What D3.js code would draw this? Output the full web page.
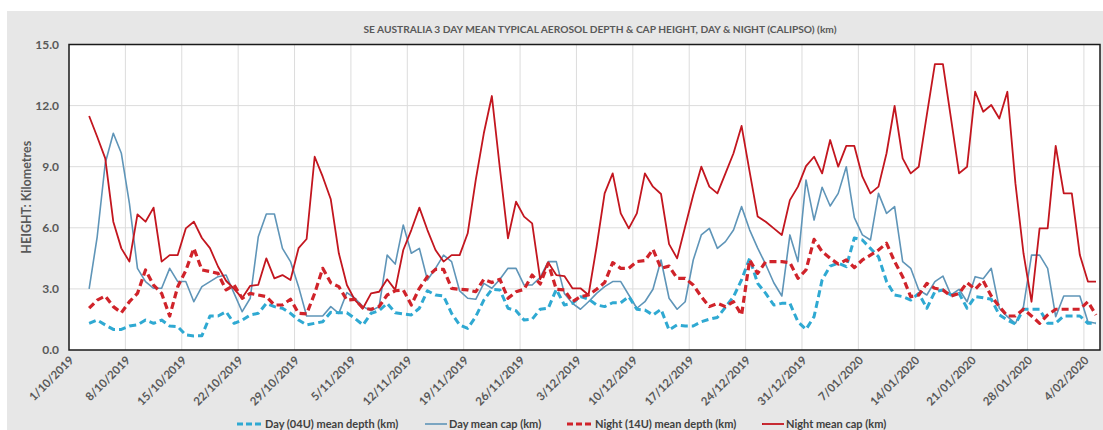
<!DOCTYPE html>
<html>
<head>
<meta charset="utf-8">
<script src="https://cdn.jsdelivr.net/npm/d3@7"></script>
<style>
  html, body { margin: 0; padding: 0; background: #ffffff; }
  svg { display: block; }
  text { font-family: Lato, "Open Sans", "Liberation Sans", sans-serif; }
</style>
</head>
<body>
<svg id="chart" width="1103" height="430"></svg>
<script>
// Daily series, 3/10/2019 .. 5/02/2020 (km)
const firstDay = "3/10/2019";
const lastDay = "5/02/2020";

const dayDepth = [
  1.31, 1.47, 1.23, 1.01, 1.01, 1.18, 1.23, 1.47, 1.31, 1.47, 1.18, 1.15, 0.74, 0.69, 0.70,
  1.67, 1.67, 1.88, 1.31, 1.47, 1.72, 1.80, 2.29, 2.13, 2.05, 1.80, 1.47, 1.23, 1.31, 1.39,
  1.85, 1.83, 1.83, 1.55, 1.23, 1.80, 1.93, 2.29, 1.83, 1.77, 1.72, 2.05, 2.91, 2.70, 2.65,
  1.80, 1.23, 1.06, 1.64, 2.45, 2.98, 2.95, 2.05, 1.93, 1.47, 1.51, 2.00, 2.05, 2.98, 2.21,
  2.29, 2.62, 2.50, 2.21, 2.13, 2.32, 2.32, 2.62, 2.00, 1.96, 1.72, 2.00, 0.98, 1.23, 1.18,
  1.18, 1.39, 1.51, 1.60, 2.10, 2.62, 3.44, 4.50, 3.27, 2.78, 2.21, 2.29, 2.29, 1.39, 1.01,
  1.64, 3.44, 4.12, 4.26, 4.09, 5.50, 5.40, 4.99, 4.58, 3.36, 2.70, 2.62, 2.45, 2.78, 2.05,
  2.86, 2.95, 2.70, 2.78, 2.05, 2.62, 2.57, 2.49, 1.72, 1.47, 1.28, 2.00, 2.00, 2.00, 1.31,
  1.31, 1.67, 1.67, 1.67, 1.31, 1.31
];

const dayCap = [
  3.00, 5.56, 9.17, 10.64, 9.66, 7.20, 4.01, 3.36, 3.03, 3.03, 4.01, 3.36, 3.36, 2.37, 3.11,
  3.36, 3.60, 3.68, 2.78, 1.88, 2.54, 5.56, 6.68, 6.68, 4.99, 4.34, 3.11, 1.67, 1.67, 1.67,
  2.13, 1.80, 2.82, 2.54, 2.13, 1.93, 2.13, 4.66, 4.22, 6.14, 4.75, 4.99, 3.44, 4.01, 4.66,
  4.34, 2.90, 2.54, 2.49, 3.27, 3.03, 3.47, 4.01, 4.01, 3.19, 3.19, 3.57, 4.34, 4.34, 2.78,
  2.29, 2.00, 2.37, 2.78, 3.11, 3.36, 3.36, 2.70, 2.05, 2.37, 2.98, 4.42, 2.54, 2.00, 2.37,
  4.42, 5.65, 5.97, 4.99, 5.32, 5.89, 7.04, 5.90, 5.00, 4.20, 3.30, 2.65, 5.65, 4.34, 8.35,
  6.38, 7.99, 7.07, 7.69, 9.00, 6.50, 5.65, 5.40, 7.69, 6.71, 7.04, 4.34, 4.01, 2.95, 2.70,
  3.36, 3.63, 2.70, 2.98, 2.37, 3.60, 3.50, 4.01, 2.05, 1.64, 1.31, 2.13, 4.66, 4.66, 4.01,
  1.64, 2.65, 2.65, 2.65, 1.39, 1.31
];

const nightDepth = [
  2.05, 2.45, 2.65, 2.13, 1.83, 2.37, 2.78, 3.93, 3.19, 2.78, 1.67, 3.11, 3.90, 4.99, 3.93,
  3.85, 3.76, 2.95, 3.19, 2.54, 2.78, 2.70, 2.62, 2.21, 2.21, 2.49, 1.80, 1.77, 2.78, 4.01,
  3.30, 3.11, 2.45, 2.49, 2.05, 2.00, 2.13, 2.70, 2.91, 2.95, 2.21, 3.03, 3.60, 3.96, 3.96,
  3.03, 2.98, 2.95, 2.86, 3.47, 3.31, 3.47, 2.54, 2.86, 2.98, 3.68, 3.24, 4.26, 2.98, 2.95,
  2.37, 2.62, 2.70, 2.98, 3.31, 4.29, 4.01, 4.01, 4.34, 4.39, 4.94, 4.01, 4.12, 3.52, 3.52,
  3.19, 2.62, 2.13, 2.29, 2.13, 2.37, 1.72, 4.42, 3.76, 4.34, 4.34, 4.34, 4.29, 3.52, 3.93,
  5.43, 4.83, 4.50, 4.22, 4.42, 4.05, 4.42, 4.66, 4.91, 5.24, 4.34, 3.60, 2.62, 2.70, 3.27,
  3.03, 2.95, 2.65, 2.78, 3.31, 2.98, 3.40, 2.65, 2.13, 1.67, 1.67, 2.00, 1.67, 1.31, 1.72,
  2.00, 2.00, 2.00, 2.00, 2.37, 1.72
];

const nightCap = [
  11.49, 10.47, 9.41, 6.30, 4.99, 4.34, 6.66, 6.30, 6.99, 4.34, 4.66, 4.66, 5.97, 6.30, 5.50,
  5.00, 4.10, 3.40, 3.00, 2.55, 3.15, 3.20, 4.50, 3.52, 3.68, 3.44, 5.00, 5.45, 9.49, 8.51,
  7.40, 4.75, 3.19, 2.45, 2.05, 2.78, 2.86, 3.47, 2.95, 4.91, 5.89, 6.99, 5.89, 4.91, 4.34,
  4.66, 4.66, 5.73, 8.35, 10.64, 12.47, 8.90, 5.48, 7.28, 6.55, 6.22, 3.47, 4.29, 3.68, 3.63,
  3.03, 3.03, 2.70, 5.07, 7.69, 8.67, 6.71, 5.97, 6.71, 8.67, 8.02, 7.66, 5.20, 4.50, 6.06,
  7.61, 9.00, 8.02, 7.69, 8.67, 9.66, 11.00, 8.76, 6.55, 6.30, 5.97, 5.65, 7.36, 8.02, 9.03,
  9.49, 8.67, 10.31, 9.00, 10.02, 10.02, 8.51, 7.69, 8.02, 9.66, 11.98, 9.41, 8.67, 9.00, 11.54,
  14.04, 14.04, 11.37, 8.67, 9.00, 12.68, 11.70, 12.03, 11.37, 12.68, 8.18, 4.75, 2.37, 5.97, 5.97,
  10.02, 7.69, 7.69, 4.66, 3.36, 3.36
];

const xTickLabels = [
  "1/10/2019", "8/10/2019", "15/10/2019", "22/10/2019", "29/10/2019", "5/11/2019",
  "12/11/2019", "19/11/2019", "26/11/2019", "3/12/2019", "10/12/2019", "17/12/2019",
  "24/12/2019", "31/12/2019", "7/01/2020", "14/01/2020", "21/01/2020", "28/01/2020", "4/02/2020"
];
const yTickValues = [0, 3, 6, 9, 12, 15];

const seriesNames = [
  "Day (04U) mean depth (km)", "Day mean cap (km)",
  "Night (14U) mean depth (km)", "Night mean cap (km)"
];

const titleText = "SE AUSTRALIA 3 DAY MEAN TYPICAL AEROSOL DEPTH & CAP HEIGHT, DAY & NIGHT (CALIPSO) (km)";
const yTitle = "HEIGHT: Kilometres";

// ---- drawing ----
const parse = d3.timeParse("%d/%m/%Y");
const fmtY = d3.format(".1f");

const days = d3.timeDay.range(parse(firstDay), d3.timeDay.offset(parse(lastDay), 1));
const axisStart = parse(xTickLabels[0]);
const axisEnd = d3.timeDay.offset(parse(lastDay), 1);

const plot = { left: 69, right: 1100, top: 44.5, bottom: 350 };

const x = d3.scaleTime().domain([axisStart, axisEnd]).range([plot.left, plot.right]);
const y = d3.scaleLinear().domain([0, 15]).range([plot.bottom, plot.top]);
// each day's value sits in the middle of its day slot
const xMid = d => x(d3.timeHour.offset(d, 12));

const svg = d3.select("#chart");

// chart panel
svg.append("rect").attr("x", 7).attr("y", 11).attr("width", 1096).attr("height", 419)
  .attr("fill", "#e7e7e7");

// plot area
svg.append("rect").attr("x", plot.left).attr("y", plot.top)
  .attr("width", plot.right - plot.left).attr("height", plot.bottom - plot.top)
  .attr("fill", "#ffffff");

// gridlines
const tickDates = xTickLabels.map(parse);
svg.append("g").selectAll("line.vg").data(tickDates.slice(1)).join("line")
  .attr("x1", d => x(d)).attr("x2", d => x(d))
  .attr("y1", plot.top).attr("y2", plot.bottom)
  .attr("stroke", "#dcdcdc").attr("stroke-width", 1);
svg.append("g").selectAll("line.hg").data(yTickValues.slice(1, -1)).join("line")
  .attr("x1", plot.left).attr("x2", plot.right)
  .attr("y1", d => y(d)).attr("y2", d => y(d))
  .attr("stroke", "#dcdcdc").attr("stroke-width", 1);

// y axis labels
const yAxis = d3.axisLeft(y).tickValues(yTickValues).tickFormat(fmtY).tickSize(0).tickPadding(10);
const gy = svg.append("g").attr("transform", `translate(${plot.left},0)`).call(yAxis);
gy.select(".domain").remove();
gy.selectAll("text").attr("fill", "#595959").attr("font-size", 12).attr("font-weight", 700)
  .style("font-family", "Lato, sans-serif");

// x axis labels (rotated)
const xAxis = d3.axisBottom(x).tickValues(tickDates).tickFormat((d, i) => xTickLabels[i]).tickSize(0);
const gx = svg.append("g").attr("transform", `translate(0,${plot.bottom})`).call(xAxis);
gx.select(".domain").remove();
gx.selectAll("text")
  .attr("fill", "#595959").attr("font-size", 11.5).attr("font-weight", 700)
  .style("font-family", "Lato, sans-serif")
  .attr("text-anchor", "end")
  .attr("dy", null).attr("y", 0)
  .attr("transform", "translate(5,11) rotate(-45)");

// series
const series = [
  { name: seriesNames[0], values: dayDepth, color: "#2fa9d2", width: 3, dash: "7,4" },
  { name: seriesNames[1], values: dayCap, color: "#5f95b8", width: 1.6, dash: null },
  { name: seriesNames[2], values: nightDepth, color: "#d0232a", width: 3.2, dash: "7,4" },
  { name: seriesNames[3], values: nightCap, color: "#c3161f", width: 1.8, dash: null }
];
const line = d3.line().x((v, i) => xMid(days[i])).y(v => y(v));
// draw order: caps first, depths on top
[1, 3, 0, 2].forEach(k => {
  const s = series[k];
  svg.append("path").datum(s.values)
    .attr("d", line).attr("fill", "none")
    .attr("stroke", s.color).attr("stroke-width", s.width)
    .attr("stroke-dasharray", s.dash)
    .attr("stroke-linejoin", "round");
});

// plot border
svg.append("rect").attr("x", plot.left).attr("y", plot.top)
  .attr("width", plot.right - plot.left).attr("height", plot.bottom - plot.top)
  .attr("fill", "none").attr("stroke", "#1a1a1a").attr("stroke-width", 1.5);

// title
svg.append("text").attr("x", 600).attr("y", 33).attr("text-anchor", "middle")
  .attr("fill", "#595959").attr("font-size", 10.2).attr("font-weight", 700)
  .text(titleText);

// y title
svg.append("text").attr("transform", `translate(31,${(plot.top + plot.bottom) / 2}) rotate(-90)`)
  .attr("text-anchor", "middle").attr("fill", "#595959")
  .attr("font-size", 12.5).attr("font-weight", 700)
  .text(yTitle);

// legend: sample line start and length per entry
const legendX = [237, 425, 567, 762];
const legendLen = [26, 22, 26, 22];
const lg = svg.append("g");
series.forEach((s, i) => {
  const g = lg.append("g").attr("transform", `translate(${legendX[i]},424)`);
  g.append("line").attr("x1", 0).attr("x2", legendLen[i]).attr("y1", 0).attr("y2", 0)
    .attr("stroke", s.color).attr("stroke-width", s.width)
    .attr("stroke-dasharray", s.dash ? "6,3" : null);
  g.append("text").attr("x", legendLen[i] + 2).attr("y", 0).attr("dy", "0.35em")
    .attr("fill", "#404040").attr("font-size", 11).attr("font-weight", 700)
    .text(s.name);
});
</script>
</body>
</html>
